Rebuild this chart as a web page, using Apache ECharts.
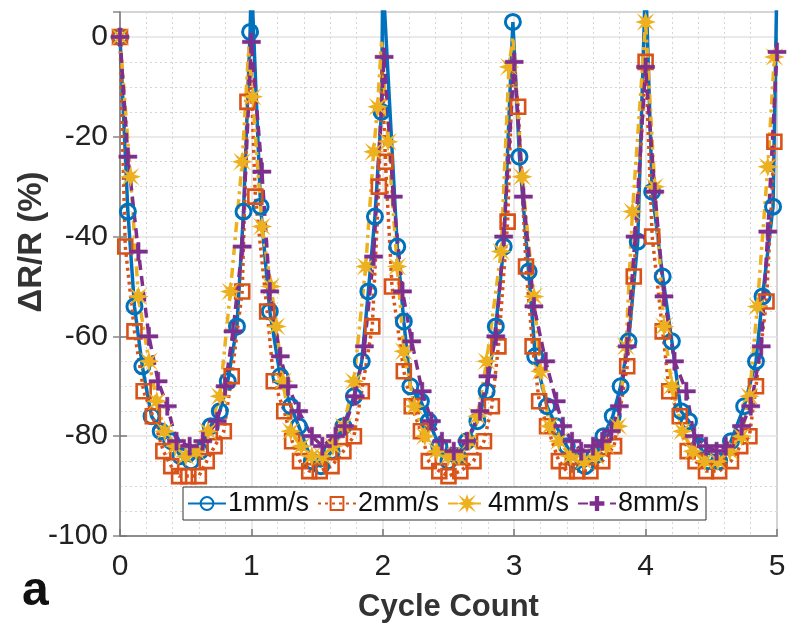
<!DOCTYPE html>
<html>
<head>
<meta charset="utf-8">
<script src="https://cdn.jsdelivr.net/npm/echarts@6/dist/echarts.min.js"></script>
<style>html,body{margin:0;padding:0;background:#fff}#c{width:789px;height:626px}</style>
</head>
<body>
<div id="c"></div>
<script>
// ---- Data ----
const seriesNames = ['1mm/s', '2mm/s', '4mm/s', '8mm/s'];
const xTickLabels = ['0', '1', '2', '3', '4', '5'];
const yTickLabels = ['-100', '-80', '-60', '-40', '-20', '0'];

const s1X = [0, 0.06, 0.11, 0.17, 0.24, 0.31, 0.39, 0.46, 0.54, 0.61, 0.69, 0.76, 0.82, 0.89, 0.94, 0.99,
  1.07, 1.14, 1.22, 1.30, 1.36, 1.46, 1.53, 1.61, 1.70, 1.78, 1.84, 1.89, 1.94, 1.99,
  2.11, 2.16, 2.21, 2.29, 2.35, 2.43, 2.50, 2.57, 2.64, 2.72, 2.79, 2.86, 2.92, 2.99,
  3.04, 3.11, 3.16, 3.25, 3.32, 3.40, 3.47, 3.54, 3.61, 3.68, 3.75, 3.81, 3.87, 3.94,
  4.05, 4.13, 4.20, 4.27, 4.33, 4.41, 4.48, 4.56, 4.65, 4.75, 4.84, 4.89, 4.97];
const s1Y = [0, -35, -54, -66, -76, -79, -81, -84, -85, -83, -78, -75, -69, -58, -35, 1,
  -34, -55, -68, -74, -78, -85, -86, -83, -78, -72, -65, -51, -36, -15,
  -42, -57, -70, -73, -77, -82, -85, -84, -81, -77, -71, -58, -42, 3,
  -24, -47, -64, -74, -78, -82, -85, -86, -84, -80, -76, -70, -61, -41,
  -31, -48, -61, -75, -77, -82, -85, -85, -81, -74, -65, -52, -34];
const s1PeakX = [1.00, 2.00, 4.00, 5.00];
const s1PeakY = [12, 12, 12, 12];

const s2X = [0, 0.04, 0.11, 0.18, 0.25, 0.33, 0.39, 0.45, 0.52, 0.60, 0.66, 0.72, 0.79, 0.85, 0.93, 0.97,
  1.03, 1.12, 1.17, 1.25, 1.31, 1.37, 1.44, 1.52, 1.61, 1.70, 1.78, 1.84, 1.92, 1.97,
  2.02, 2.07, 2.16, 2.22, 2.29, 2.35, 2.43, 2.50, 2.59, 2.69, 2.77, 2.83, 2.88, 2.95,
  3.03, 3.09, 3.14, 3.19, 3.25, 3.34, 3.40, 3.48, 3.58, 3.67, 3.76, 3.86, 3.91, 4.00,
  4.05, 4.13, 4.18, 4.26, 4.32, 4.38, 4.46, 4.56, 4.65, 4.72, 4.79, 4.84, 4.92, 4.98];
const s2Y = [0, -42, -59, -71, -76, -83, -86, -88, -88, -88, -85, -82, -79, -68, -51, -13,
  -32, -55, -69, -75, -81, -85, -87, -87, -86, -83, -80, -71, -58, -30,
  -25, -50, -67, -74, -79, -85, -87, -88, -87, -85, -81, -74, -62, -37,
  -14, -46, -62, -73, -78, -85, -87, -87, -87, -85, -82, -66, -48, -5,
  -40, -59, -71, -76, -83, -85, -87, -87, -85, -82, -80, -70, -53, -21];
const s2PeakX = [0.99, 1.995, 2.99];
const s2PeakY = [-2, -5, -4];

const s3X = [0, 0.08, 0.14, 0.22, 0.28, 0.34, 0.42, 0.50, 0.58, 0.67, 0.76, 0.84, 0.93, 1.01,
  1.08, 1.15, 1.19, 1.24, 1.30, 1.38, 1.46, 1.54, 1.62, 1.70, 1.78, 1.87, 1.93, 1.96,
  2.04, 2.11, 2.16, 2.24, 2.32, 2.41, 2.50, 2.58, 2.66, 2.72, 2.79, 2.90, 2.96,
  3.06, 3.15, 3.20, 3.27, 3.34, 3.43, 3.53, 3.62, 3.70, 3.79, 3.85, 3.90, 4.00,
  4.07, 4.14, 4.20, 4.28, 4.36, 4.45, 4.55, 4.64, 4.73, 4.79, 4.85, 4.93, 4.98];
const s3Y = [0, -28, -52, -65, -73, -79, -82, -84, -83, -79, -72, -51, -25, -12,
  -38, -50, -58, -69, -79, -82, -84, -84, -82, -78, -69, -46, -23, -14,
  -21, -46, -63, -74, -80, -83, -84, -84, -81, -76, -65, -43, -6,
  -28, -52, -67, -78, -81, -84, -85, -84, -82, -78, -62, -35, 3,
  -30, -58, -70, -79, -83, -85, -85, -83, -80, -72, -54, -26, -4];
const s3PeakX = [0.98, 1.99, 2.99];
const s3PeakY = [-2, -1, 0];

const s4X = [0, 0.06, 0.14, 0.22, 0.29, 0.36, 0.43, 0.53, 0.63, 0.74, 0.80, 0.86, 0.93, 1.00,
  1.08, 1.14, 1.22, 1.28, 1.36, 1.46, 1.54, 1.64, 1.71, 1.79, 1.86, 1.93, 2.01,
  2.08, 2.15, 2.22, 2.30, 2.37, 2.45, 2.54, 2.64, 2.74, 2.80, 2.86, 2.92, 3.00,
  3.07, 3.15, 3.24, 3.32, 3.37, 3.44, 3.51, 3.60, 3.67, 3.74, 3.80, 3.86, 3.92, 4.00,
  4.07, 4.14, 4.22, 4.31, 4.37, 4.46, 4.54, 4.61, 4.73, 4.80, 4.88, 4.93, 5.00];
const s4Y = [0, -24, -43, -60, -69, -74, -81, -82, -81, -77, -70, -59, -42, -1,
  -27, -51, -64, -70, -75, -80, -82, -80, -78, -72, -62, -44, -4,
  -32, -51, -61, -71, -77, -81, -83, -81, -75, -68, -60, -40, -5,
  -32, -54, -65, -73, -78, -81, -83, -82, -81, -79, -74, -62, -40, -6,
  -31, -52, -65, -71, -80, -82, -83, -82, -78, -74, -62, -39, -3];
const s4PeakX = [];
const s4PeakY = [];

// ---- Build ----
function build(xs, ys, px, py) {
  const pts = xs.map((x, i) => ({ value: [x, ys[i]] }));
  px.forEach((x, i) => pts.push({ value: [x, py[i]], symbol: 'none' }));
  pts.sort((a, b) => a.value[0] - b.value[0]);
  return pts;
}

const C1 = '#0072BD', C2 = '#D95319', C3 = '#EDB120', C4 = '#7E2F8E';
const starPath = 'path://M0,-10 L2.2,-3.5 L7,-7 L3.5,-2.2 L10,0 L3.5,2.2 L7,7 L2.2,3.5 L0,10 L-2.2,3.5 L-7,7 L-3.5,2.2 L-10,0 L-3.5,-2.2 L-7,-7 L-2.2,-3.5 Z';
const plusPath = 'path://M-1.8,-10 L1.8,-10 L1.8,-1.8 L10,-1.8 L10,1.8 L1.8,1.8 L1.8,10 L-1.8,10 L-1.8,1.8 L-10,1.8 L-10,-1.8 L-1.8,-1.8 Z';

const FONT = '"Liberation Sans", Arial, sans-serif';
const chart = echarts.init(document.getElementById('c'), null, { renderer: 'canvas' });

const gridLeft = 120, gridTop = 12, gridRight = 12, gridBottom = 90;

chart.setOption({
  animation: false,
  backgroundColor: '#fff',
  grid: { left: gridLeft, top: gridTop, right: gridRight, bottom: gridBottom, show: true,
          outerBoundsMode: 'none', containLabel: false,
          borderColor: '#8a8a8a', borderWidth: 1.5, backgroundColor: '#fff' },
  legend: {
    data: seriesNames,
    left: 183, top: 487,
    orient: 'horizontal',
    backgroundColor: '#fff',
    borderColor: '#333', borderWidth: 1,
    padding: [3, 7, 3, 4],
    itemGap: 8,
    itemWidth: 38, itemHeight: 16,
    textStyle: { fontFamily: FONT, fontSize: 27, color: '#111', padding: [0, 0, 0, -3] }
  },
  xAxis: [{
    type: 'value', min: 0, max: 5, interval: 1,
    axisLine: { show: true, onZero: false, lineStyle: { color: '#777', width: 1.5 } },
    axisTick: { show: true, inside: true, length: 7, lineStyle: { color: '#777', width: 1.5 } },
    axisLabel: { fontFamily: FONT, fontSize: 30, color: '#222', margin: 16,
                 formatter: v => xTickLabels[Math.round(v)] ?? '' },
    splitLine: { show: true, lineStyle: { color: '#e3e3e3', width: 1.5 } },
    minorTick: { show: false, splitNumber: 5 },
    minorSplitLine: { show: true, lineStyle: { color: '#d6d6d6', width: 1, type: [2, 3] } },
    name: 'Cycle Count', nameLocation: 'middle', nameGap: 56,
    nameTextStyle: { fontFamily: FONT, fontSize: 31, fontWeight: 'bold', color: '#333' }
  }, {
    type: 'value', min: 0, max: 5, interval: 1, position: 'top',
    axisLine: { show: false }, axisLabel: { show: false }, splitLine: { show: false },
    axisTick: { show: true, inside: true, length: 7, lineStyle: { color: '#888', width: 1.5 } }
  }],
  yAxis: [{
    type: 'value', min: -100, max: 5, interval: 20,
    axisLine: { show: true, lineStyle: { color: '#777', width: 1.5 } },
    axisTick: { show: true, inside: true, length: 7, lineStyle: { color: '#777', width: 1.5 } },
    axisLabel: { fontFamily: FONT, fontSize: 30, color: '#222', margin: 12, showMaxLabel: false,
                 formatter: v => (v % 20 === 0 ? yTickLabels[(v + 100) / 20] ?? '' : '') },
    splitLine: { show: true, lineStyle: { color: '#e3e3e3', width: 1.5 } },
    minorTick: { show: false, splitNumber: 4 },
    minorSplitLine: { show: true, lineStyle: { color: '#d6d6d6', width: 1, type: [2, 3] } }
  }, {
    type: 'value', min: -100, max: 5, interval: 20, position: 'right',
    axisLine: { show: false }, axisLabel: { show: false }, splitLine: { show: false },
    axisTick: { show: true, inside: true, length: 7, lineStyle: { color: '#888', width: 1.5 } }
  }],
  graphic: [{
    type: 'text', x: 32, y: 242, rotation: Math.PI / 2,
    style: { text: 'ΔR/R (%)', font: 'bold 33px ' + FONT, fill: '#333', align: 'center', verticalAlign: 'middle' }
  }, {
    type: 'text', left: 22, top: 568,
    style: { text: 'a', font: 'bold 48px ' + FONT, fill: '#111' }
  }],
  series: [{
    name: seriesNames[0], type: 'line', data: build(s1X, s1Y, s1PeakX, s1PeakY),
    symbol: 'circle', symbolSize: 15,
    itemStyle: { color: 'rgba(255,255,255,0)', borderColor: C1, borderWidth: 3 },
    lineStyle: { color: C1, width: 3.5 }
  }, {
    name: seriesNames[1], type: 'line', data: build(s2X, s2Y, s2PeakX, s2PeakY),
    symbol: 'rect', symbolSize: 14,
    itemStyle: { color: 'rgba(255,255,255,0)', borderColor: C2, borderWidth: 2.6 },
    lineStyle: { color: C2, width: 3.5, type: [3, 4] }
  }, {
    name: seriesNames[2], type: 'line', data: build(s3X, s3Y, s3PeakX, s3PeakY),
    symbol: starPath, symbolSize: 16,
    itemStyle: { color: C3, borderColor: C3, borderWidth: 1.5 },
    lineStyle: { color: C3, width: 3.5, type: [10, 5, 3, 5] }
  }, {
    name: seriesNames[3], type: 'line', data: build(s4X, s4Y, s4PeakX, s4PeakY),
    symbol: plusPath, symbolSize: 18,
    itemStyle: { color: C4, borderColor: C4, borderWidth: 0.6 },
    lineStyle: { color: C4, width: 3.5, type: [10, 6] }
  }]
});
</script>
</body>
</html>
